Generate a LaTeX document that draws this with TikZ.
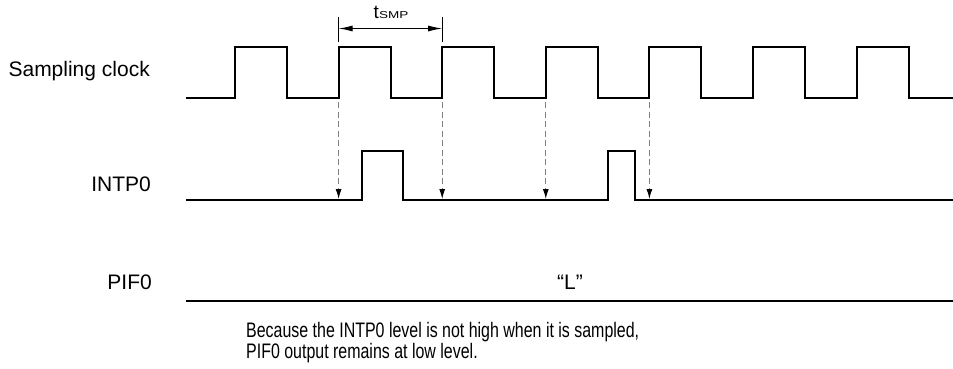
\documentclass[tikz,border=0pt]{standalone}
\usepackage{fontspec}
\setmainfont{Liberation Sans}
\usetikzlibrary{arrows.meta}
\begin{document}
\begin{tikzpicture}[x=1pt,y=-1pt,
  wave/.style={line width=2pt,line join=miter},
  lbl/.style={inner sep=0pt,font=\fontsize{21}{22}\selectfont},
  sampl/.style={draw=black!50,line width=1.1pt,dash pattern=on 6pt off 3.5pt,
    -{Latex[length=10pt,width=6pt,black]}},
  dim/.style={line width=1pt,{Latex[length=14pt,width=6pt]}-{Latex[length=14pt,width=6pt]}},
  tick/.style={line width=1pt}]
\useasboundingbox (0,0) rectangle (953,369);
% labels
\node[lbl,anchor=base east] (lclk) at (150,77) {Sampling clock};
\node[lbl,anchor=base east] (lint) at (151,191) {INTP0};
\node[lbl,anchor=base east] (lpif) at (152,289) {PIF0};
\node[lbl,anchor=base] (lL) at (570,289) {“L”};
\node[lbl,anchor=base west] (n1) at (246,337) {\scalebox{0.76}[1]{Because the INTP0 level is not high when it is sampled,}};
\node[lbl,anchor=base west] (n2) at (246,358.5) {\scalebox{0.76}[1]{PIF0 output remains at low level.}};
% sampling clock
\draw[wave] (186,98) -- (235,98) -- (235,47) -- (287,47) -- (287,98)
  -- (338.6,98) -- (338.6,47) -- (390.6,47) -- (390.6,98)
  -- (442.2,98) -- (442.2,47) -- (494.2,47) -- (494.2,98)
  -- (545.8,98) -- (545.8,47) -- (597.8,47) -- (597.8,98)
  -- (649.4,98) -- (649.4,47) -- (701.4,47) -- (701.4,98)
  -- (753,98) -- (753,47) -- (805,47) -- (805,98)
  -- (856.6,98) -- (856.6,47) -- (908.6,47) -- (908.6,98) -- (953,98);
% INTP0
\draw[wave] (186,200) -- (362,200) -- (362,151) -- (403,151) -- (403,200)
  -- (608,200) -- (608,151) -- (635,151) -- (635,200) -- (953,200);
% PIF0
\draw[wave] (186,301) -- (953,301);
% tSMP
\coordinate (ta1) at (338.6,17);
\coordinate (ta2) at (338.6,42);
\coordinate (tb1) at (442.2,17);
\coordinate (tb2) at (442.2,42);
\coordinate (da) at (338.6,28.5);
\coordinate (db) at (442.2,28.5);
\draw[tick] (ta1) -- (ta2);
\draw[tick] (tb1) -- (tb2);
\draw[dim] (da) -- (db);
\node[inner sep=0pt,anchor=base] (tsmp) at (391,19) {\fontsize{19}{19}\selectfont t\scalebox{1.35}[1]{\fontsize{10}{10}\selectfont SMP}};
% sampling arrows
\foreach \x [count=\i] in {338.6,442.2,545.8,649.4}{
  \coordinate (s\i) at (\x,102);
  \coordinate (e\i) at (\x,199);
  \draw[sampl] (s\i) -- (e\i);
}
\end{tikzpicture}
\end{document}
